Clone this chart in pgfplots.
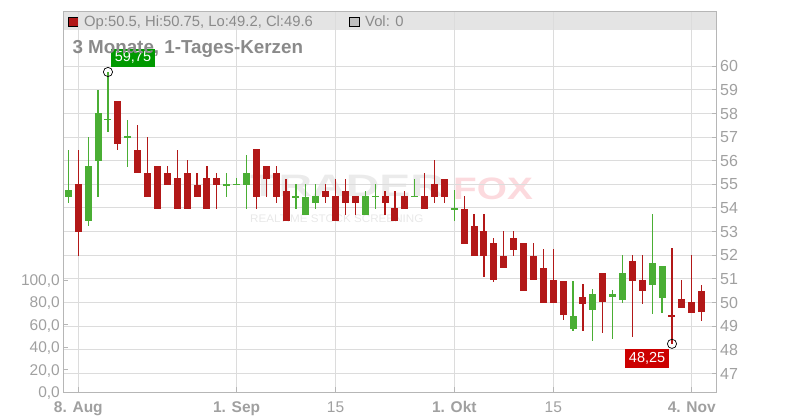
\documentclass[border=0pt]{standalone}
\usepackage{fontspec}
\setmainfont{Liberation Sans}
\usepackage{pgfplots}
\usepackage{pgfplotstable}
\pgfplotsset{compat=1.18}

\definecolor{candlered}{RGB}{178,24,24}
\definecolor{candlegreen}{RGB}{74,174,52}
\definecolor{axisgray}{RGB}{182,182,182}
\definecolor{gridgray}{RGB}{220,220,220}
\definecolor{bandgray}{RGB}{228,228,228}
\definecolor{tickgray}{RGB}{160,160,160}
\definecolor{titlegray}{RGB}{138,138,138}
\definecolor{labelgreen}{RGB}{0,153,0}
\definecolor{labelred}{RGB}{204,0,0}

% i = trading day (0 = 8. Aug), o h l c
\pgfplotstableread{
i o h l c
0 55.00 56.47 51.96 52.98
4 58.52 58.52 56.44 56.69
6 56.47 57.50 55.48 55.48
7 55.49 56.98 54.46 54.46
8 55.76 55.76 53.95 53.95
9 55.49 55.76 54.97 54.97
10 55.25 56.47 53.95 53.95
11 55.49 56.02 53.95 53.95
12 54.99 55.49 54.46 54.46
13 55.25 55.76 53.95 53.95
14 55.25 55.49 53.95 54.97
18 56.48 56.48 53.94 54.46
19 55.76 55.76 54.46 55.22
20 55.49 55.76 54.21 54.46
21 54.73 55.24 53.45 53.45
25 54.73 55.00 54.21 54.46
26 54.49 55.24 53.45 53.45
27 54.73 55.24 53.70 54.21
28 54.49 54.49 53.70 54.21
31 54.49 54.73 53.70 54.21
32 53.98 54.73 53.45 53.45
33 54.49 54.73 53.95 53.95
35 54.49 55.49 53.95 53.95
36 55.00 56.02 54.21 54.46
37 55.24 55.24 54.21 54.46
39 53.97 54.49 52.47 52.47
40 53.25 53.73 51.96 51.96
41 53.01 53.73 51.07 51.96
42 52.50 52.74 50.86 50.95
43 51.98 53.01 51.45 51.45
44 52.74 53.01 51.98 52.23
45 52.50 52.50 50.48 50.48
46 51.98 52.50 50.95 50.95
47 51.47 52.25 49.97 49.97
48 50.96 52.25 49.97 49.97
49 50.90 50.90 49.25 49.46
51 50.25 50.80 48.78 49.93
53 51.23 51.23 48.70 50.01
56 51.74 51.99 48.53 50.93
57 50.97 51.99 49.93 50.48
60 49.49 52.29 48.25 49.38
61 50.13 50.93 49.76 49.76
62 50.04 51.99 49.55 49.55
63 50.50 50.75 49.20 49.60
}\redtab

\pgfplotstableread{
i o h l c
-1 54.46 56.47 54.21 54.75
1 53.45 56.98 53.23 55.76
2 56.00 58.98 54.46 58.00
3 57.75 59.75 57.22 57.75
5 57.00 57.74 55.73 57.00
15 54.99 55.49 54.46 54.99
16 55.00 55.25 55.00 55.00
17 54.97 56.23 53.95 55.49
22 54.46 55.00 53.94 54.46
23 53.70 55.00 53.70 54.46
24 54.21 55.00 53.94 54.49
29 53.70 54.73 53.70 54.49
30 54.49 55.00 53.94 54.49
34 54.49 55.24 54.46 54.49
38 53.97 54.75 53.45 53.97
50 48.87 50.90 48.78 49.41
52 49.67 50.55 48.36 50.37
54 50.22 50.51 48.46 50.37
55 50.10 51.99 49.97 51.23
58 50.73 53.73 49.50 51.65
59 50.18 51.53 49.55 51.53
}\greentab

\pgfplotsset{
  wick/.style={draw=none, mark=none, forget plot, error bars/.cd, y dir=both, y explicit,
    error mark=none, error bar style={line width=1.2pt, draw=#1, solid}},
  body/.style={draw=none, mark=none, forget plot, error bars/.cd, y dir=both, y explicit,
    error mark=none, error bar style={line width=7pt, draw=#1, solid}},
}

\begin{document}
\begin{tikzpicture}
\useasboundingbox (0pt,0pt) rectangle (800pt,420pt);

% header band and legend line
\fill[bandgray] (63.3pt,390pt) rectangle (716.5pt,408.3pt);
\filldraw[fill=candlered, draw=black, line width=0.8pt] (68.6pt,393.6pt) rectangle (78.7pt,403pt);
\node[anchor=base west, inner sep=0pt, text=titlegray, font=\fontsize{14.8}{15}\selectfont]
  at (84pt,393.3pt) {Op:50.5, Hi:50.75, Lo:49.2, Cl:49.6};
\filldraw[fill=black!25, draw=black, line width=0.8pt] (349.3pt,393.6pt) rectangle (359.3pt,403pt);
\node[anchor=base west, inner sep=0pt, text=titlegray, font=\fontsize{14.8}{15}\selectfont]
  at (365pt,393.3pt) {Vol: 0};

% watermark
\node[anchor=base west, inner sep=0pt, text=black!8, font=\bfseries\fontsize{31}{31}\selectfont]
  at (250pt,223pt) {\scalebox{1.5}[1]{TRADER}};
\node[anchor=base west, inner sep=0pt, text={rgb,255:red,252;green,218;blue,222}, font=\bfseries\fontsize{31}{31}\selectfont]
  at (453pt,220pt) {\scalebox{1.25}[1]{FOX}};
\node[anchor=base west, inner sep=0pt, text=black!9, font=\fontsize{11}{11}\selectfont]
  at (250pt,197pt) {\scalebox{1.06}[1]{REALTIME STOCK SCREENING}};

% volume scale (left)
\begin{axis}[
  at={(63.3pt,27.7pt)}, anchor=south west,
  scale only axis, width=653.2pt, height=380.6pt,
  xmin=-1.516, xmax=64.5, ymin=0, ymax=338.9,
  hide x axis,
  y axis line style={draw=none},
  ytick={0,20,40,60,80,100},
  yticklabels={0{,}0,20{,}0,40{,}0,60{,}0,80{,}0,100{,}0},
  ytick pos=left,
  tick align=inside,
  major tick length=5pt,
  tick style={draw=axisgray, line width=0.9pt},
  yticklabel style={anchor=base east, inner sep=0pt, xshift=-3.3pt, yshift=-5.5pt,
    text=tickgray, font=\fontsize{15.5}{15.5}\selectfont},
]
\end{axis}

% price chart
\begin{axis}[
  at={(63.3pt,27.7pt)}, anchor=south west,
  scale only axis, width=653.2pt, height=380.6pt,
  xmin=-1.516, xmax=64.5, ymin=46.2, ymax=62.3,
  axis line style={draw=axisgray, line width=0.9pt},
  tick align=inside,
  major tick length=5pt,
  tick style={draw=axisgray, line width=0.9pt},
  xtick={0,16,26,38,48,62},
  xticklabels={\textbf{8. Aug},\textbf{1. Sep},15,\textbf{1. Okt},15,\textbf{4. Nov}},
  xtick pos=left,
  ytick={47,48,...,60},
  ytick pos=right,
  yticklabel pos=right,
  grid=major,
  major grid style={draw=gridgray, line width=0.9pt},
  /pgf/number format/assume math mode=true,
  xticklabel style={anchor=base, inner sep=0pt, yshift=-20.4pt,
    text=tickgray, font=\fontsize{15.5}{15.5}\selectfont},
  yticklabel style={anchor=base west, inner sep=0pt, xshift=3.5pt, yshift=-5.7pt,
    text=tickgray, font=\fontsize{16}{16}\selectfont},
]
\addplot[wick=candlered] table[x=i, y expr=(\thisrow{h}+\thisrow{l})/2,
  y error expr=(\thisrow{h}-\thisrow{l})/2] {\redtab};
\addplot[body=candlered] table[x=i, y expr=(\thisrow{o}+\thisrow{c})/2,
  y error expr={max(abs(\thisrow{o}-\thisrow{c})/2,0.028)}] {\redtab};
\addplot[wick=candlegreen] table[x=i, y expr=(\thisrow{h}+\thisrow{l})/2,
  y error expr=(\thisrow{h}-\thisrow{l})/2] {\greentab};
\addplot[body=candlegreen] table[x=i, y expr=(\thisrow{o}+\thisrow{c})/2,
  y error expr={max(abs(\thisrow{o}-\thisrow{c})/2,0.028)}] {\greentab};

% high and low markers
\addplot[only marks, mark=o, mark size=4.6pt, mark options={draw=black, line width=0.7pt},
  nodes near coords={59{,}75},
  every node near coord/.style={fill=labelgreen, text=white, font=\fontsize{14.5}{14.5}\selectfont,
    anchor=south west, inner xsep=3.8pt, inner ysep=0pt, minimum height=18.4pt,
    xshift=2.7pt, yshift=4.6pt}]
  coordinates {(3,59.75)};
\addplot[only marks, mark=o, mark size=4.6pt, mark options={draw=black, line width=0.7pt},
  nodes near coords={48{,}25},
  every node near coord/.style={fill=labelred, text=white, font=\fontsize{14.5}{14.5}\selectfont,
    anchor=north east, inner xsep=3.8pt, inner ysep=0pt, minimum height=18.4pt,
    xshift=-2.6pt, yshift=-5pt}]
  coordinates {(60,48.25)};
\end{axis}

% title, drawn over the chart as in the original
\node[anchor=base west, inner sep=0pt, text=titlegray, font=\bfseries\fontsize{18.8}{19}\selectfont]
  at (72.3pt,366pt) {3 Monate, 1-Tages-Kerzen};
\end{tikzpicture}
\end{document}
